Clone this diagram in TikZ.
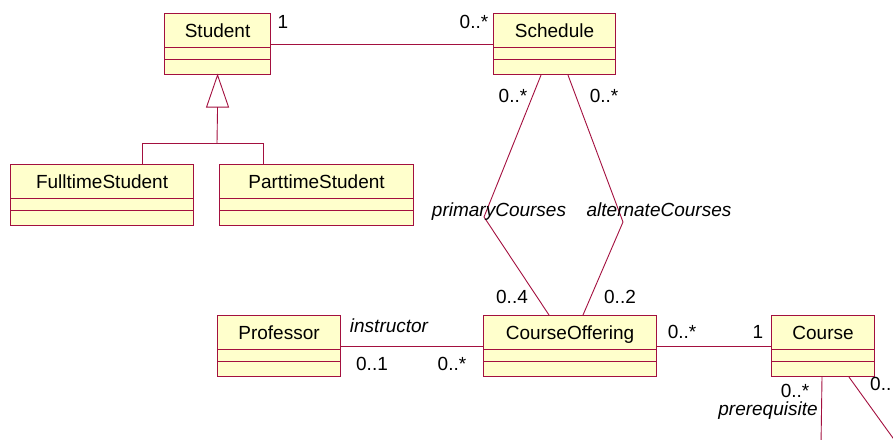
\documentclass[tikz,border=0pt]{standalone}
\usepackage{fontspec}
\setmainfont{Liberation Sans}
\usetikzlibrary{calc}
\definecolor{umlred}{HTML}{A3103F}
\definecolor{umlfill}{HTML}{FFFFCC}
\tikzset{
  clsbox/.style={draw=umlred, fill=umlfill, line width=1.1pt, inner sep=0pt, anchor=north west},
  clsname/.style={font=\fontsize{19}{22}\selectfont, anchor=base, inner sep=0pt},
  clsline/.style={draw=umlred, line width=0.9pt},
  conn/.style={draw=umlred, line width=0.9pt},
  lbl/.style={font=\fontsize{19}{22}\selectfont, anchor=base, inner sep=0pt},
  ilbl/.style={font=\fontsize{19}{22}\selectfont\itshape, anchor=base, inner sep=0pt},
}
\newcommand\umlcls[5]{%
  \node[clsbox, minimum width={(#4-#2)*1pt}, minimum height=61pt] (#1) at (#2,#3) {};
  \node[clsname] (#1-t) at ($(#1.north)+(0,24)$) {#5};
  \draw[clsline] ($(#1.north west)+(0,34)$) -- ($(#1.north east)+(0,34)$);
  \draw[clsline] ($(#1.north west)+(0,46)$) -- ($(#1.north east)+(0,46)$);
}
\begin{document}
\begin{tikzpicture}[x=1pt,y=-1pt]
\useasboundingbox (0,0) rectangle (893,439);
\clip (0,0) rectangle (893,439);
% classes
\umlcls{student}{164}{13}{270}{Student}
\umlcls{schedule}{493}{13}{615}{Schedule}
\umlcls{ft}{10}{164}{193}{FulltimeStudent}
\umlcls{pt}{219}{164}{413}{ParttimeStudent}
\umlcls{prof}{217}{315}{340}{Professor}
\umlcls{co}{483}{315}{656}{CourseOffering}
\umlcls{course}{771}{315}{874}{Course}
% Student - Schedule
\draw[conn] (student) -- (schedule);
\node[lbl] (m1) at (283,28) {1};
\node[lbl] (m2) at (474,28) {0..*};
% generalization
\coordinate (tri) at ($(student.south)+(0,32)$);
\coordinate (j) at (217,143);
\draw[conn, fill=white] (student.south) -- ($(tri)+(-11,0)$) -- ($(tri)+(11,0)$) -- cycle;
\draw[conn] (tri) -- (j);
\draw[conn] (j) -| ($(ft.north west)+(132,0)$);
\draw[conn] (j) -| ($(pt.north west)+(44,0)$);
% Schedule - CourseOffering (primary)
\coordinate (k1) at (484,217);
\coordinate (k2) at (623,222);
\draw[conn] ($(schedule.south west)+(48,0)$) -- (k1) -- ($(co.north west)+(66,0)$);
\draw[conn] ($(schedule.south west)+(75,0)$) -- (k2) -- ($(co.north west)+(100,0)$);
\node[lbl] (m3) at (513,102) {0..*};
\node[lbl] (m4) at (604,102) {0..*};
\node[ilbl] (r1) at (499,216) {primaryCourses};
\node[ilbl] (r2) at (659,216) {alternateCourses};
\node[lbl] (m5) at (512,303) {0..4};
\node[lbl] (m6) at (620,303) {0..2};
% Professor - CourseOffering
\draw[conn] (prof) -- (co);
\node[ilbl] (r3) at (389,332) {instructor};
\node[lbl] (m7) at (372,370) {0..1};
\node[lbl] (m8) at (452,370) {0..*};
% CourseOffering - Course
\draw[conn] (co) -- (course);
\node[lbl] (m9) at (682,338) {0..*};
\node[lbl] (m10) at (758,338) {1};
% Course self association (cut off)
\coordinate (c1) at (821,445);
\coordinate (c2) at (898,445);
\draw[conn] ($(course.south west)+(51,0)$) -- (c1);
\draw[conn] ($(course.south west)+(78,0)$) -- (c2);
\node[lbl] (m11) at (795,397) {0..*};
\node[ilbl] (r4) at (768,415) {prerequisite};
\node[lbl, anchor=base west] (m12) at (870,390) {0..};
\end{tikzpicture}
\end{document}
